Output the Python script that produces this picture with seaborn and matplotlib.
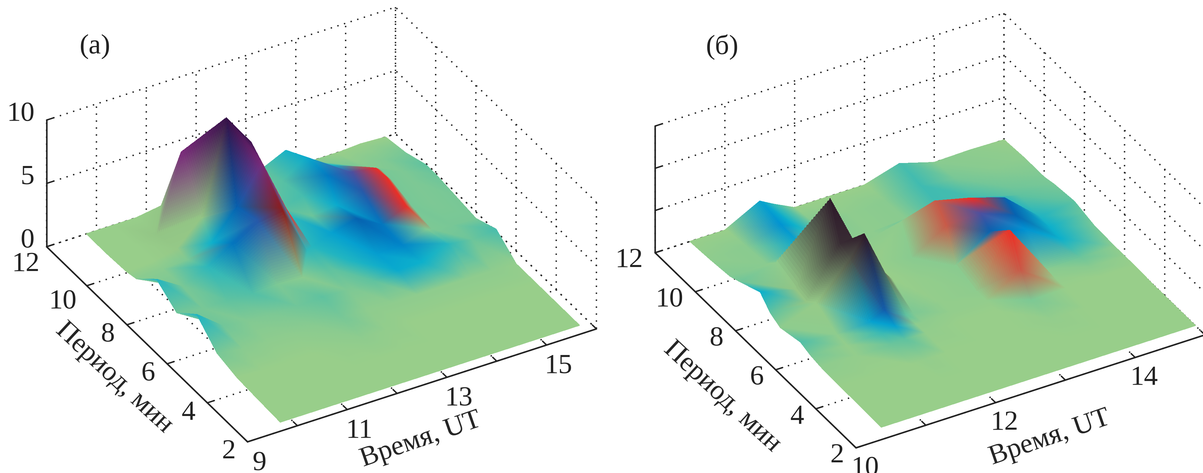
import io
import numpy as np
import matplotlib
matplotlib.use("Agg")
import matplotlib.pyplot as plt
import seaborn as sns
from mpl_toolkits.mplot3d import proj3d
from PIL import Image

W, H = 1203, 473
PANEL_A_LABEL = "(a)"
PANEL_B_LABEL = "(б)"
XLABEL = "Время, UT"
YLABEL = "Период, мин"

# ---- panel (a) ----
a_time = [9.8, 10.3, 10.8, 11.3, 11.8, 12.3, 12.8, 12.9, 13.3, 13.8, 14.3, 14.8, 14.9, 15.3, 15.8]
a_period = [12, 11, 10, 9.5, 8.5, 7.5, 6.5, 5.5, 4.5, 3.5, 2.35]
a_height = [
    [0, 0, 0, .3, .5, .4, .3, .3, .6, 1.5, 0, 0, 0, .1, 0],
    [0, .1, .2, 6.1, 6.5, 3, .8, .9, 1.2, 2.5, 1.2, .5, .5, .4, .3],
    [.1, .2, .6, 2.5, 9.7, 7.1, 1, 1.1, 1.6, 2.6, 2.2, 1.9, 1.6, 1, .9],
    [.3, .4, .5, 1.2, 3.4, 6.3, 2, 1.2, .8, 1, 1.5, 2, 1.6, 1, .9],
    [1.8, .6, 1.5, 2.7, 3.9, 4.2, .3, .4, 1, 1.5, .4, 1.2, 1.1, .8, .7],
    [.7, .4, .4, .3, .4, .3, .2, .2, .3, .2, .3, .9, .8, .6, .5],
    [2.1, .6, .3, .2, .2, .3, .2, .2, .3, .5, .5, 1.3, 1.2, 1, 1.2],
    [.6, .3, .2, .1, .1, .2, .2, .2, .1, .1, .1, .1, .1, .1, 0],
    [.2, .1, .1, .1, .1, .1, .1, .1, .1, .1, .1, .1, .1, 0, 0],
    [.1, .1, .1, 0, 0, .1, .1, .1, 0, 0, .1, 0, 0, 0, 0],
    [0, 0, 0, 0, 0, 0, 0, 0, 0, 0, 0, 0, 0, 0, 0],
]
a_shade = [
    [0, 0, 0, -.5, -.5, .2, .5, .5, 1, 1.9, .3, 0, 0, 0, 0],
    [0, 0, -.5, 8, 9, -2, .8, .8, 1.1, 2.2, 2, .5, .3, .4, .6],
    [0, 0, -.3, -.5, 10, 9.5, 1, 1.1, 1.3, 3.5, 5, 6, .6, .5, 1],
    [.3, .3, .5, 2, 4, 8, 6, 1.6, .8, 2.2, 4.5, 6, .6, .5, .8],
    [1.7, .6, 1.6, 3.6, 4.5, 7, 1.6, 1.7, 2.5, 4, 3.6, 6, .6, .5, .6],
    [.7, .6, 1, 1.2, .5, .3, 1, 1, 1.8, 2.6, 3.3, .4, .5, .6, .6],
    [1.8, .7, .4, .5, .7, 1, .5, .5, 1, 2.2, 2, 1.7, 1.5, .8, 1.3],
    [.6, .3, .2, .2, .3, .6, .2, .2, .2, .2, .2, .2, .2, .2, .1],
    [0, 0, 0, 0, .1, .2, .1, .1, 0, 0, 0, 0, 0, 0, 0],
    [0, 0, 0, 0, 0, 0, 0, 0, 0, 0, 0, 0, 0, 0, 0],
    [0, 0, 0, 0, 0, 0, 0, 0, 0, 0, 0, 0, 0, 0, 0],
]
a_flipped_cells = [(0, 2), (4, 5)]
a_xticks = [9, 10, 11, 12, 13, 14, 15, 16]
a_xlabels = ["9", "", "11", "", "13", "", "15", ""]
a_zticks = [0, 5, 10]
a_zlabels = ["0", "5", "10"]

# ---- panel (b) ----
b_time = [10.5, 11, 11.5, 11.7, 12, 12.1, 12.5, 13, 13.5, 14, 14.5, 15]
b_period = [12, 11, 10, 9.5, 8.5, 8, 7.5, 6.5, 6, 5.5, 4.5, 3.5, 2.48]
b_height = [
    [0, 0, 2.1, 1.2, 0, 0, 0, 0, 1.2, 0, .1, 0],
    [.2, .3, 1.6, 1, .3, .3, .2, .3, .9, .4, .3, .2],
    [.5, .6, 1.5, 1, .4, .4, .3, .6, .7, .5, .3, .2],
    [1, 1.9, 1.2, 1, .6, .6, 1, 2, 2.5, 1.5, .5, .5],
    [2.1, 1, 10.5, 4.5, 1, 1, 5, 6.2, 5.2, 3.9, .3, .8],
    [.8, .7, 6.3, 6, 1.5, 1.3, 2, 4.5, 4.5, 3, .2, .5],
    [.2, 1.7, 5.8, 8.1, 2.6, 1.6, .5, .8, 3.5, 2.5, 0, .2],
    [.8, .3, .5, 1.3, 0, 0, .1, .1, 6, 0, .1, .1],
    [.4, .2, .3, .6, 0, 0, .1, .1, 2.4, .1, .1, .1],
    [.2, .1, .1, .2, .1, .1, .1, .1, 0, .1, .1, .1],
    [.1, .1, .1, .1, .1, .1, .1, .1, .1, .1, 0, 0],
    [.1, 0, 0, 0, 0, 0, 0, 0, .1, 0, 0, 0],
    [0, 0, 0, 0, 0, 0, 0, 0, 0, 0, 0, 0],
]
b_shade = [
    [0, 0, 2.5, 1.5, 0, 0, 0, 0, 1.3, .3, .2, 0],
    [.2, .3, 3, 2, .5, .4, .2, .3, 1.4, .6, .3, .2],
    [.4, .3, 2.3, 1, .4, .3, .2, .3, 1.4, 1.3, .7, .5],
    [.7, .2, 1, .5, .2, .2, .2, .8, 1.8, 2.2, 1, .6],
    [2, -.5, -10, -9, 0, 0, .2, 11, 6, 4, 1.8, 1],
    [1, -.5, -9, -9, -.5, 0, .3, 11, 5, 4, 2, .8],
    [.2, -.2, -7, -10, -5, 0, .1, .3, 4, 3, 2, .6],
    [1.2, .2, 2.5, 4.2, 1, .5, .1, .2, 6, .3, .8, .2],
    [.6, .1, 1.5, 2.5, .2, .2, .1, .1, 11, .1, .3, .1],
    [.2, .1, .8, 1, .1, .1, 0, 0, .5, 0, 0, 0],
    [0, 0, 0, .1, 0, 0, 0, 0, .1, 0, 0, 0],
    [0, 0, 0, 0, 0, 0, 0, 0, 0, 0, 0, 0],
    [0, 0, 0, 0, 0, 0, 0, 0, 0, 0, 0, 0],
]
b_flipped_cells = []
b_xticks = [10, 11, 12, 13, 14, 15]
b_xlabels = ["10", "", "12", "", "14", ""]
b_zticks = [0, 5, 10, 15]
b_zlabels = ["", "", "", ""]

yticks = [2, 4, 6, 8, 10, 12]
a_label_nudge = {12: (5, 8), 10: (2, 6)}
b_label_nudge = {}

# colour ramp, one entry per shade step 0..11 (11 is the rose tone of the dome flanks)
ramp = sns.blend_palette(
    ["#98CE8A", "#5FC2A0", "#0CB0CC", "#0092D2", "#0562B0", "#4A50A0",
     "#EE2E24", "#8C1C1C", "#7A2A7A", "#4A1A5A", "#341048", "#C85A48"],
    n_colors=111,
)
ramp = np.array(ramp)
GREEN = ramp[0]
DARK = np.array(matplotlib.colors.to_rgb("#2E1A2A"))


def shade_rgb(values):
    c = np.asarray(values, dtype=float)
    pos = np.clip(np.round(np.maximum(c, 0) * 10).astype(int), 0, 110)
    rgb = ramp[pos]
    neg = np.clip(-c / 10, 0, 1)[..., None]
    return np.where(c[..., None] < 0, GREEN + (DARK - GREEN) * neg, rgb)


def refine(grid, flips=(), n=24):
    """Split every mesh cell along one diagonal and shade it linearly."""
    g = np.asarray(grid, dtype=float)
    R, C = g.shape[:2]
    r = np.arange((R - 1) * n + 1) / n
    c = np.arange((C - 1) * n + 1) / n
    ri = np.minimum(np.floor(r).astype(int), R - 2)
    ci = np.minimum(np.floor(c).astype(int), C - 2)
    RI, CI = np.meshgrid(ri, ci, indexing="ij")
    V, U = np.meshgrid(r - ri, c - ci, indexing="ij")
    flip = np.zeros(RI.shape, dtype=bool)
    for fr, fc in flips:
        flip |= (RI == fr) & (CI == fc)
    if g.ndim == 3:
        U, V, flip = U[..., None], V[..., None], flip[..., None]
    A, B, CC, D = g[RI, CI], g[RI, CI + 1], g[RI + 1, CI], g[RI + 1, CI + 1]
    normal = np.where(U >= V, A + U * (B - A) + V * (D - B), A + V * (CC - A) + U * (D - CC))
    other = np.where(U + V <= 1, A + U * (B - A) + V * (CC - A),
                     D + (1 - U) * (CC - D) + (1 - V) * (B - D))
    return np.where(flip, other, normal)


sns.set_theme(style="white")
plt.rcParams["font.family"] = ["Liberation Serif", "DejaVu Serif"]
fig = plt.figure(figsize=(W / 100, H / 100), dpi=100)
fig.patch.set_facecolor("white")
FS = 20
INK = "#222222"


def tick_text(ax, x, y, z, s, dx, dy, ha):
    px, py, _ = proj3d.proj_transform(x, y, z, ax.get_proj())
    ax.annotate(s, xy=(px, py), xycoords="data", xytext=(dx * .72, -dy * .72),
                textcoords="offset points", ha=ha, va="center",
                fontsize=FS, color=INK, annotation_clip=False)


def panel(cx, cy, time, period, height, shade, flips, xlim, zlim, xticks, xlabels, zticks, zlabels,
          xoff, yoff, zoff, nudge):
    S = 572.0
    frac = 0.5135
    rect = [(cx - frac * S) / W, (H - cy - frac * S) / H, S / W, S / H]
    ax = fig.add_axes(rect, projection="3d", computed_zorder=False)
    ax.patch.set_visible(False)
    ax.set_proj_type("ortho")
    ax.view_init(elev=34.1, azim=-120)
    ax.set_box_aspect((403, 402, 153))
    X, Y = np.meshgrid(time, period)
    Xf, Yf, Zf = refine(X, flips), refine(Y, flips), refine(height, flips)
    Cf = refine(shade_rgb(shade), flips)
    ax.plot_surface(Xf, Yf, Zf, facecolors=Cf, rstride=1, cstride=1,
                    shade=False, linewidth=0.35, antialiased=False)
    ax.set_xlim(*xlim)
    ax.set_ylim(2, 12)
    ax.set_zlim(*zlim)
    ax.set_xticks(xticks, [""] * len(xticks))
    ax.set_yticks(yticks, [""] * len(yticks))
    ax.set_zticks(zticks, [""] * len(zticks))
    for axis in (ax.xaxis, ax.yaxis, ax.zaxis):
        axis.set_pane_color((1, 1, 1, 0))
        axis.pane.set_edgecolor((1, 1, 1, 0))
        axis.line.set_color(INK)
        axis.line.set_linewidth(1.1)
        axis._axinfo["grid"].update(color=INK, linewidth=1.0, linestyle=(0, (1, 4)))
        axis._axinfo["tick"].update(inward_factor=0.0, outward_factor=0.25, linewidth={True: 1, False: 1})
    ax.grid(True)
    ax.tick_params(colors=INK, pad=2)
    for v, s in zip(xticks, xlabels):
        if s:
            tick_text(ax, v, 2, 0, s, *xoff, "center")
    for v in yticks:
        nx, ny = nudge.get(v, (0, 0))
        tick_text(ax, xlim[0], v, 0, str(v), yoff[0] + nx, yoff[1] + ny, "right")
    for v, s in zip(zticks, zlabels):
        if s:
            tick_text(ax, xlim[0], 12, v, s, *zoff, "right")
    return ax


ax_a = panel(321.5, 224.5, a_time, a_period, a_height, a_shade, a_flipped_cells, (9, 16), (0, 10),
             a_xticks, a_xlabels, a_zticks, a_zlabels, (12, 21.5), (-12, 10), (-12, -6), a_label_nudge)
ax_b = panel(930, 230.5, b_time, b_period, b_height, b_shade, b_flipped_cells, (10, 15), (0, 15),
             b_xticks, b_xlabels, b_zticks, b_zlabels, (9, 20.5), (-12, 8), (-12, -6), b_label_nudge)


def label(x, y, s, rot=0):
    fig.text(x / W, 1 - y / H, s, rotation=rot, rotation_mode="anchor",
             ha="center", va="center", fontsize=FS, color=INK)


label(95, 47, PANEL_A_LABEL)
label(722, 47, PANEL_B_LABEL)
label(114, 378, YLABEL, -43)
label(421, 440, XLABEL, 19)
label(722, 397, YLABEL, -43)
label(1050, 438, XLABEL, 19)

buf = io.BytesIO()
fig.savefig(buf, dpi=300, facecolor="white", format="png")
buf.seek(0)
Image.open(buf).convert("RGB").resize((W, H), Image.LANCZOS).save("out.png")
